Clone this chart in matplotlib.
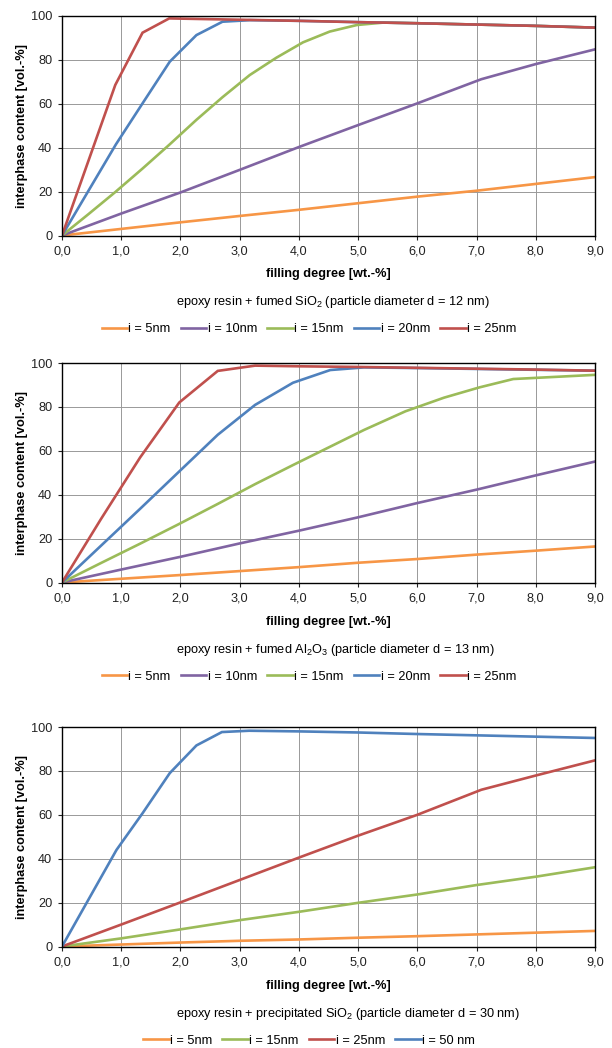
import matplotlib
matplotlib.use("Agg")
import matplotlib.pyplot as plt

plt.rcParams['font.family'] = ['Liberation Sans', 'DejaVu Sans']
plt.rcParams['mathtext.default'] = 'regular'

# colours (Excel 2007 palette)
ORANGE = '#F79646'
PURPLE = '#8064A2'
GREEN = '#9BBB59'
BLUE = '#4F81BD'
RED = '#C0504D'

x_ticks = [0, 1, 2, 3, 4, 5, 6, 7, 8, 9]
x_tick_labels = ['0,0', '1,0', '2,0', '3,0', '4,0', '5,0', '6,0', '7,0', '8,0', '9,0']
y_ticks = [0, 20, 40, 60, 80, 100]

# ---- panel 1: fumed SiO2, d = 12 nm
p1_x_i5 = [0, 1, 2, 3, 4, 5, 6, 7, 8, 9]
p1_y_i5 = [0, 3.0, 6.0, 8.9, 11.7, 14.7, 17.7, 20.4, 23.5, 26.6]
p1_x_i10 = [0, 1, 2, 3, 4, 5, 6, 7.08, 8, 9]
p1_y_i10 = [0, 10.0, 19.6, 29.9, 40.3, 50.3, 60.2, 71.2, 78.1, 84.8]
p1_x_i15 = [0, 0.45, 0.9, 1.36, 1.81, 2.27, 2.71, 3.17, 3.62, 4.07, 4.52, 4.98, 5.43, 6, 7, 8, 9]
p1_y_i15 = [0, 9.8, 19.8, 30.5, 41.3, 52.7, 63.0, 73.1, 81.0, 88.0, 92.9, 95.9, 97.0, 96.7, 96.1, 95.5, 94.7]
p1_x_i20 = [0, 0.91, 1.36, 1.82, 2.27, 2.71, 3.17, 4, 5, 6, 7, 8, 9]
p1_y_i20 = [0, 41.5, 60.2, 79.2, 91.3, 97.4, 98.1, 97.8, 97.2, 96.7, 96.1, 95.5, 94.7]
p1_x_i25 = [0, 0.9, 1.36, 1.81, 3, 4, 5, 6, 7, 8, 9]
p1_y_i25 = [0, 68.6, 92.4, 98.9, 98.3, 97.8, 97.2, 96.7, 96.1, 95.5, 94.7]

# ---- panel 2: fumed Al2O3, d = 13 nm
p2_x_i5 = [0, 1, 2, 3, 4, 5, 6, 7, 8, 9]
p2_y_i5 = [0, 1.7, 3.4, 5.2, 7.0, 9.0, 10.7, 12.7, 14.5, 16.4]
p2_x_i10 = [0, 1, 2, 3, 4, 5, 6, 7, 8, 9]
p2_y_i10 = [0, 5.9, 11.7, 17.8, 23.6, 29.7, 36.2, 42.3, 48.8, 55.1]
p2_x_i15 = [0, 0.66, 1.32, 1.98, 2.63, 3.26, 3.9, 4.5, 5.1, 5.8, 6.45, 7.05, 7.62, 9]
p2_y_i15 = [0, 8.9, 17.7, 26.7, 35.8, 44.8, 53.5, 61.5, 69.5, 78.0, 84.2, 88.9, 92.7, 94.6]
p2_x_i20 = [0, 0.66, 1.32, 1.98, 2.63, 3.26, 3.9, 4.53, 5.1, 6, 7, 8, 9]
p2_y_i20 = [0, 16.8, 33.6, 50.6, 67.3, 80.9, 91.0, 96.8, 98.0, 97.7, 97.3, 96.9, 96.5]
p2_x_i25 = [0, 0.66, 1.32, 1.98, 2.63, 3.26, 4, 5, 6, 7, 8, 9]
p2_y_i25 = [0, 29.0, 57.0, 82.0, 96.4, 98.8, 98.5, 98.2, 97.8, 97.4, 97.0, 96.5]

# ---- panel 3: precipitated SiO2, d = 30 nm
p3_x_i5 = [0, 1, 2, 3, 4, 5, 6, 7, 8, 9]
p3_y_i5 = [0, 0.9, 1.8, 2.6, 3.2, 4.0, 4.7, 5.5, 6.3, 7.1]
p3_x_i15 = [0, 1, 2, 3, 4, 5, 6, 7, 8, 9]
p3_y_i15 = [0, 3.7, 7.8, 12.0, 15.8, 19.9, 23.7, 28.0, 31.8, 36.1]
p3_x_i25 = [0, 1, 2, 3, 4, 5, 6, 7.08, 8, 9]
p3_y_i25 = [0, 10.0, 20.1, 30.3, 40.5, 50.5, 60.0, 71.4, 77.9, 84.8]
p3_x_i50 = [0, 0.92, 1.36, 1.82, 2.27, 2.7, 3.16, 4, 5, 6, 7, 8, 9]
p3_y_i50 = [0, 44.0, 60.7, 79.0, 91.6, 97.7, 98.3, 98.0, 97.5, 96.8, 96.2, 95.6, 95.0]

panels = [
    {
        'caption': 'epoxy resin + fumed SiO$_2$ (particle diameter d = 12 nm)',
        'series': [
            (p1_x_i5, p1_y_i5, ORANGE, 'i = 5nm'),
            (p1_x_i10, p1_y_i10, PURPLE, 'i = 10nm'),
            (p1_x_i15, p1_y_i15, GREEN, 'i = 15nm'),
            (p1_x_i20, p1_y_i20, BLUE, 'i = 20nm'),
            (p1_x_i25, p1_y_i25, RED, 'i = 25nm'),
        ],
    },
    {
        'caption': 'epoxy resin + fumed Al$_2$O$_3$ (particle diameter d = 13 nm)',
        'series': [
            (p2_x_i5, p2_y_i5, ORANGE, 'i = 5nm'),
            (p2_x_i10, p2_y_i10, PURPLE, 'i = 10nm'),
            (p2_x_i15, p2_y_i15, GREEN, 'i = 15nm'),
            (p2_x_i20, p2_y_i20, BLUE, 'i = 20nm'),
            (p2_x_i25, p2_y_i25, RED, 'i = 25nm'),
        ],
    },
    {
        'caption': 'epoxy resin + precipitated SiO$_2$ (particle diameter d = 30 nm)',
        'series': [
            (p3_x_i5, p3_y_i5, ORANGE, 'i = 5nm'),
            (p3_x_i15, p3_y_i15, GREEN, 'i = 15nm'),
            (p3_x_i25, p3_y_i25, RED, 'i = 25nm'),
            (p3_x_i50, p3_y_i50, BLUE, 'i = 50 nm'),
        ],
    },
]

W, H = 612, 1048
fig = plt.figure(figsize=(W / 100, H / 100), dpi=100)

ax_left, ax_right = 62, 595
ax_tops = [16, 363, 727]
ax_h = 219.5
fs = 9.2

for top, panel in zip(ax_tops, panels):
    ax = fig.add_axes([ax_left / W, 1 - (top + ax_h) / H, (ax_right - ax_left) / W, ax_h / H])
    for xs, ys, col, lab in panel['series']:
        ax.plot(xs, ys, color=col, lw=1.9, label=lab, solid_joinstyle='miter')
    ax.set_xlim(0, 9)
    ax.set_ylim(0, 100)
    ax.set_xticks(x_ticks)
    ax.set_xticklabels(x_tick_labels)
    ax.set_yticks(y_ticks)
    ax.tick_params(labelsize=fs, length=3, width=0.8, pad=4, colors='#222222')
    ax.grid(True, color='#999999', lw=0.7)
    ax.set_axisbelow(True)
    for sp in ax.spines.values():
        sp.set_linewidth(1.0)
        sp.set_color('black')

    ax.text(0.5, -39 / ax_h, 'filling degree [wt.-%]', transform=ax.transAxes,
            ha='center', va='center', fontsize=fs, fontweight='bold')
    ax.text(-40 / (ax_right - ax_left), 0.5, 'interphase content [vol.-%]', transform=ax.transAxes,
            ha='center', va='center', rotation=90, fontsize=fs, fontweight='bold')
    ax.text((176 - ax_left) / (ax_right - ax_left), -67 / ax_h, panel['caption'], transform=ax.transAxes,
            ha='left', va='center', fontsize=fs)
    ax.legend(loc='center', bbox_to_anchor=((309 - ax_left) / (ax_right - ax_left), -94 / ax_h),
              ncol=len(panel['series']), frameon=False, fontsize=fs,
              handlelength=2.0, handletextpad=0.1, columnspacing=0.8, borderpad=0)

fig.savefig('out.png', dpi=100)
